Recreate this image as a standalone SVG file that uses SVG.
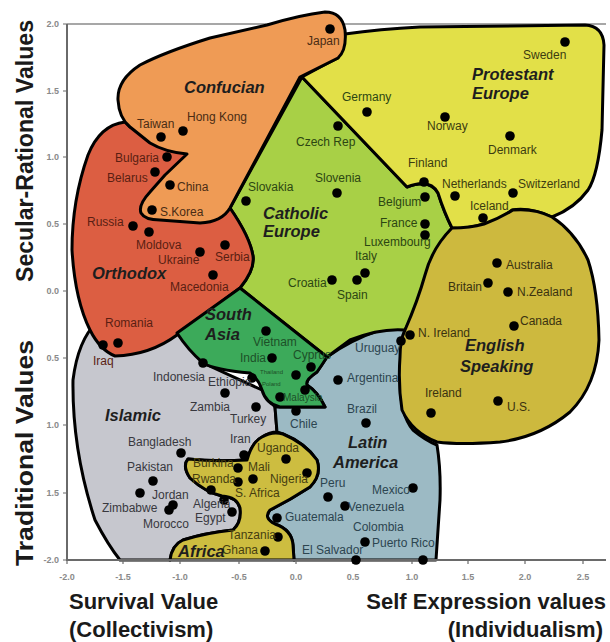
<svg xmlns="http://www.w3.org/2000/svg" width="610" height="642" viewBox="0 0 610 642">
<style>
.reg{stroke:#000;stroke-width:3;stroke-linejoin:round}
.dot{fill:#000}
text{font-family:"Liberation Sans",Arial,sans-serif}
.c{font-size:12px}
.t{font-size:16.5px;font-weight:bold;font-style:italic;fill:#1e1e1e}
.tick{font-family:"Liberation Serif",serif;font-size:9px;fill:#8a8a8a;font-weight:bold}
.ax{font-size:22px;font-weight:bold;fill:#1a1a1a}
.lc{fill:#4a2c14}.lo{fill:#5a1e12}.lca{fill:#2c4612}.lp{fill:#3c3c10}.le{fill:#3a3210}
.ll{fill:#2c4550}.ls{fill:#1c5028}.li{fill:#38383e}.la{fill:#463e10}
</style>
<rect width="610" height="642" fill="#fff"/>
<line x1="67" y1="24" x2="606" y2="24" stroke="#8a8a8a" stroke-width="1.5"/>
<g id="islamic"><path class="reg" fill="#C6C7CE" d="M100,300 L97,322 Q78,340 73,380 Q72,450 95,520 Q108,545 120,560 L170,560 Q172,545 183,540 Q205,533 233,530 Q242,522 240,508 Q237,497 222,496 Q205,492 190,478 Q182,466 188,459 Q215,462 247,460 Q252,442 262,437 Q270,432 277,432 L275,407 L262,390 L203,363 L177,333 Z"/></g>
<g id="latin-america"><path class="reg" fill="#9CBAC4" d="M327,357 Q350,340 380,330 Q395,327 405,330 Q400,345 400,380 Q400,415 413,430 Q425,440 437,445 Q441,470 440,500 Q438,530 436,560 L294,560 L293,545 Q292,530 275,524 Q263,518 270,510 Q290,500 310,487 Q322,475 317,460 Q305,443 283,434 L277,432 L275,407 L325,407 Q318,392 307,385 Q305,380 317,372 Z"/></g>
<g id="catholic-europe"><path class="reg" fill="#A8D046" d="M302,77 L407,187 Q430,178 438,193 Q444,212 452,228 Q437,245 430,270 Q420,305 405,330 Q380,328 350,340 L327,357 L240,288 Q255,270 253,256 Q250,237 230,208 Z"/></g>
<g id="protestant-europe"><path class="reg" fill="#E2E048" d="M345,34 Q380,29 420,27 L585,25 Q603,26 604,45 L602,130 Q598,175 588,190 Q575,208 552,217 Q530,207 512,210 Q497,222 484,224 Q462,230 452,228 Q444,212 438,193 Q430,178 407,187 L302,77 Q322,66 338,58 Z"/></g>
<g id="english-speaking"><path class="reg" fill="#CDB93E" d="M405,330 Q418,300 425,275 Q432,248 452,228 Q470,228 484,224 Q500,218 513,210 Q535,208 552,217 Q575,232 588,260 Q598,290 599,340 Q597,385 570,412 Q540,437 500,442 Q460,445 437,442 Q412,432 402,410 Q398,385 400,357 Q400,340 405,330 Z"/></g>
<g id="orthodox"><path class="reg" fill="#DC5E42" d="M125,122 Q100,125 88,155 Q72,200 72,250 Q75,300 90,330 Q100,350 115,356 Q150,355 177,335 L240,288 Q255,270 253,256 Q250,237 230,208 L200,190 L187,154 L130,127 Z"/></g>
<g id="confucian"><path class="reg" fill="#EF9B55" d="M300,77 Q322,66 338,58 Q347,50 345,30 Q342,12 325,12 Q300,15 267,25 L210,38 Q165,52 140,65 Q117,80 118,100 Q119,118 130,127 L150,143 Q165,152 187,154 L165,175 L150,192 Q138,205 141,213 Q145,220 160,220 L200,223 Q222,222 230,208 Z"/></g>
<g id="south-asia"><path class="reg" fill="#3CAA5A" d="M177,333 L240,288 L327,357 Q322,365 317,372 Q305,380 307,385 Q318,392 325,407 L280,407 Q266,404 262,390 Q258,378 250,373 Q215,370 203,363 Q188,350 177,333 Z"/></g>
<g id="africa"><path class="reg" fill="#CDBD40" d="M170,560 Q172,545 183,540 Q205,533 233,530 Q242,522 240,508 Q237,497 222,496 Q205,492 190,478 Q182,466 188,459 Q215,462 247,460 Q252,442 262,437 Q272,431 283,434 Q305,443 317,460 Q322,475 310,487 Q290,500 270,510 Q263,518 275,524 Q292,530 293,545 L294,560 Z"/></g>
<g id="axes" stroke="#6a6a6a" stroke-width="2" fill="none">
<line x1="67" y1="24" x2="67" y2="560"/>
<line x1="66" y1="560" x2="606" y2="560"/>
<path stroke-width="1.2" d="M63,24H67M63,91H67M63,157H67M63,224H67M63,291H67M63,358H67M63,425H67M63,493H67M63,560H67M67,560V564M123,560V564M180,560V564M239,560V564M296,560V564M353,560V564M412,560V564M468,560V564M525,560V564M583,560V564"/>
</g>
<g id="ticks" class="tick">
<text x="59" y="27" text-anchor="end">2.0</text>
<text x="59" y="94" text-anchor="end">1.5</text>
<text x="59" y="160" text-anchor="end">1.0</text>
<text x="59" y="227" text-anchor="end">0.5</text>
<text x="59" y="294" text-anchor="end">0.0</text>
<text x="59" y="361" text-anchor="end">0.5</text>
<text x="59" y="428" text-anchor="end">1.0</text>
<text x="59" y="496" text-anchor="end">1.5</text>
<text x="59" y="563" text-anchor="end">-2.0</text>
<g text-anchor="middle">
<text x="67" y="580">-2.0</text><text x="123" y="580">-1.5</text><text x="180" y="580">-1.0</text><text x="239" y="580">-0.5</text><text x="296" y="580">0.0</text><text x="353" y="580">0.5</text><text x="412" y="580">1.0</text><text x="468" y="580">1.5</text><text x="525" y="580">2.0</text><text x="583" y="580">2.5</text>
</g>
</g>
<g id="dots" class="dot">
<circle cx="330" cy="29" r="4.8"/><circle cx="161" cy="137" r="4.8"/><circle cx="183" cy="131" r="4.8"/><circle cx="167" cy="157" r="4.8"/><circle cx="155" cy="172" r="4.8"/><circle cx="170" cy="185" r="4.8"/><circle cx="152" cy="210" r="4.8"/><circle cx="133" cy="226" r="4.8"/><circle cx="149" cy="232" r="4.8"/><circle cx="200" cy="252" r="4.8"/><circle cx="225" cy="245" r="4.8"/><circle cx="213" cy="275" r="4.8"/><circle cx="118" cy="343" r="4.8"/><circle cx="103" cy="345" r="4.8"/>
<circle cx="367" cy="112" r="4.8"/><circle cx="338" cy="126" r="4.8"/><circle cx="337" cy="193" r="4.8"/><circle cx="246" cy="201" r="4.8"/><circle cx="332" cy="280" r="4.8"/><circle cx="365" cy="273" r="4.8"/><circle cx="357" cy="280" r="4.8"/><circle cx="425" cy="197" r="4.8"/><circle cx="425" cy="224" r="4.8"/><circle cx="425" cy="235" r="4.8"/>
<circle cx="565" cy="42" r="4.8"/><circle cx="445" cy="117" r="4.8"/><circle cx="510" cy="136" r="4.8"/><circle cx="424" cy="182" r="4.8"/><circle cx="455" cy="196" r="4.8"/><circle cx="513" cy="193" r="4.8"/><circle cx="483" cy="218" r="4.8"/>
<circle cx="497" cy="263" r="4.8"/><circle cx="488" cy="283" r="4.8"/><circle cx="508" cy="292" r="4.8"/><circle cx="514" cy="326" r="4.8"/><circle cx="410" cy="335" r="4.8"/><circle cx="431" cy="413" r="4.8"/><circle cx="498" cy="401" r="4.8"/>
<circle cx="401" cy="341" r="4.8"/><circle cx="338" cy="380" r="4.8"/><circle cx="366" cy="423" r="4.8"/><circle cx="296" cy="411" r="4.8"/><circle cx="328" cy="497" r="4.8"/><circle cx="345" cy="506" r="4.8"/><circle cx="413" cy="488" r="4.8"/><circle cx="365" cy="542" r="4.8"/><circle cx="356" cy="560" r="4.8"/><circle cx="423" cy="560" r="4.8"/><circle cx="277" cy="518" r="4.8"/>
<circle cx="266" cy="331" r="4.8"/><circle cx="272" cy="358" r="4.8"/><circle cx="311" cy="367" r="4.8"/><circle cx="296" cy="375" r="4.8"/><circle cx="305" cy="390" r="4.8"/><circle cx="280" cy="397" r="4.8"/>
<circle cx="203" cy="363" r="4.8"/><circle cx="252" cy="378" r="4.8"/><circle cx="225" cy="393" r="4.8"/><circle cx="256" cy="407" r="4.8"/><circle cx="244" cy="455" r="4.8"/><circle cx="181" cy="453" r="4.8"/><circle cx="153" cy="481" r="4.8"/><circle cx="140" cy="493" r="4.8"/><circle cx="173" cy="505" r="4.8"/><circle cx="169" cy="510" r="4.8"/><circle cx="224" cy="500" r="4.8"/><circle cx="232" cy="512" r="4.8"/>
<circle cx="286" cy="459" r="4.8"/><circle cx="238" cy="468" r="4.8"/><circle cx="238" cy="482" r="4.8"/><circle cx="253" cy="479" r="4.8"/><circle cx="307" cy="473" r="4.8"/><circle cx="211" cy="490" r="4.8"/><circle cx="278" cy="537" r="4.8"/><circle cx="265" cy="551" r="4.8"/>
</g>
<g id="labels" class="c">
<g class="lc"><text x="307" y="45">Japan</text><text x="137" y="128">Taiwan</text><text x="187" y="121">Hong Kong</text><text x="177" y="191">China</text><text x="160" y="216">S.Korea</text></g>
<g class="lo"><text x="115" y="162">Bulgaria</text><text x="107" y="182">Belarus</text><text x="87" y="226">Russia</text><text x="136" y="249">Moldova</text><text x="158" y="264">Ukraine</text><text x="215" y="261">Serbia</text><text x="170" y="291">Macedonia</text><text x="105" y="327">Romania</text><text x="93" y="365">Iraq</text></g>
<g class="lca"><text x="342" y="101">Germany</text><text x="296" y="146">Czech Rep</text><text x="315" y="182">Slovenia</text><text x="248" y="191">Slovakia</text><text x="378" y="206">Belgium</text><text x="380" y="227">France</text><text x="364" y="246">Luxembourg</text><text x="355" y="260">Italy</text><text x="288" y="287">Croatia</text><text x="337" y="299">Spain</text></g>
<g class="lp"><text x="523" y="59">Sweden</text><text x="427" y="130">Norway</text><text x="488" y="154">Denmark</text><text x="408" y="167">Finland</text><text x="442" y="188">Netherlands</text><text x="518" y="188">Switzerland</text><text x="470" y="210">Iceland</text></g>
<g class="le"><text x="506" y="269">Australia</text><text x="448" y="291">Britain</text><text x="517" y="296">N.Zealand</text><text x="520" y="325">Canada</text><text x="418" y="337">N. Ireland</text><text x="425" y="397">Ireland</text><text x="507" y="411">U.S.</text></g>
<g class="ll"><text x="355" y="352">Uruguay</text><text x="347" y="382">Argentina</text><text x="347" y="413">Brazil</text><text x="290" y="428">Chile</text><text x="320" y="487">Peru</text><text x="372" y="494">Mexico</text><text x="348" y="511">Venezuela</text><text x="285" y="521">Guatemala</text><text x="353" y="531">Colombia</text><text x="372" y="547">Puerto Rico</text><text x="302" y="554">El Salvador</text></g>
<g class="ls"><text x="253" y="346">Vietnam</text><text x="240" y="362">India</text><text x="293" y="359">Cyprus</text><text x="260" y="374" font-size="6">Thailand</text><text x="262" y="386" font-size="6">Poland</text><text x="283" y="401" font-size="10">Malaysia</text></g>
<g class="li"><text x="153" y="381">Indonesia</text><text x="208" y="386">Ethiopia</text><text x="190" y="411">Zambia</text><text x="230" y="423">Turkey</text><text x="230" y="443">Iran</text><text x="128" y="446">Bangladesh</text><text x="127" y="471">Pakistan</text><text x="152" y="499">Jordan</text><text x="102" y="512">Zimbabwe</text><text x="193" y="508">Algeria</text><text x="143" y="528">Morocco</text><text x="195" y="522">Egypt</text></g>
<g class="la"><text x="193" y="467">Burkina</text><text x="248" y="471">Mali</text><text x="257" y="452">Uganda</text><text x="192" y="483">Rwanda</text><text x="270" y="483">Nigeria</text><text x="235" y="497">S. Africa</text><text x="228" y="539">Tanzania</text><text x="222" y="554">Ghana</text></g>
</g>
<g id="region-titles" class="t">
<text x="184" y="93">Confucian</text>
<text x="92" y="279">Orthodox</text>
<text x="263" y="219">Catholic</text><text x="263" y="237">Europe</text>
<text x="472" y="80">Protestant</text><text x="472" y="99">Europe</text>
<text x="205" y="320">South</text><text x="205" y="340">Asia</text>
<text x="465" y="351">English</text><text x="460" y="372">Speaking</text>
<text x="348" y="448">Latin</text><text x="333" y="468">America</text>
<text x="105" y="421">Islamic</text>
<text x="178" y="557">Africa</text>
</g>
<g id="axis-titles" class="ax">
<text transform="translate(33,282) rotate(-90)" font-size="23" textLength="262" lengthAdjust="spacingAndGlyphs">Secular-Rational Values</text>
<text transform="translate(33,566) rotate(-90)" font-size="23" textLength="226" lengthAdjust="spacingAndGlyphs">Traditional Values</text>
<text x="69" y="609">Survival Value</text>
<text x="69" y="637">(Collectivism)</text>
<text x="606" y="609" text-anchor="end">Self Expression values</text>
<text x="603" y="637" text-anchor="end">(Individualism)</text>
</g>
</svg>
